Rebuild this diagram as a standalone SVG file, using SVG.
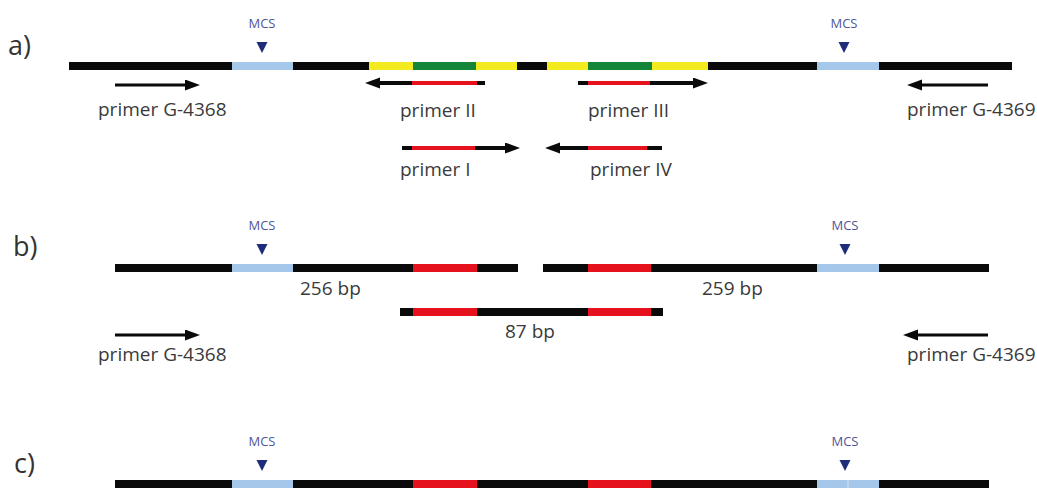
<svg xmlns="http://www.w3.org/2000/svg" width="1037" height="489" viewBox="0 0 1037 489">
  <defs>
    <style>
      .dna { fill: #0a0a0a; }
      .mcs { fill: #a5c7ea; }
      .yel { fill: #f3ea1f; }
      .grn { fill: #13863a; }
      .red { fill: #e5121d; }
      .tri { fill: #1f2c78; }
      .mcst { font-family: "Open Sans", "Liberation Sans", sans-serif; font-size: 13px; fill: #4f5698; text-anchor: middle; }
      .lbl { font-family: "Open Sans", "Liberation Sans", sans-serif; font-size: 19px; fill: #3a3a3a; }
      .sec { font-family: "Open Sans", "Liberation Sans", sans-serif; font-size: 27px; fill: #333333; }
      .arr { stroke: #0a0a0a; stroke-width: 3; fill: none; marker-end: url(#head); }
      .parr { stroke: #0a0a0a; stroke-width: 4; fill: none; marker-end: url(#head); }
      .pred { stroke: #e5121d; stroke-width: 4; }
    </style>
    <marker id="head" markerUnits="userSpaceOnUse" markerWidth="16" markerHeight="12" refX="5" refY="5.5" orient="auto">
      <path d="M0,0 L15,5.5 L0,11 z" fill="#0a0a0a"/>
    </marker>
  </defs>
  <rect width="1037" height="489" fill="#ffffff"/>

  <!-- panel labels -->
  <text class="sec" x="8" y="55">a)</text>
  <text class="sec" x="13" y="256">b)</text>
  <text class="sec" x="14" y="473">c)</text>

  <!-- a) vector with insert -->
  <g id="construct-a">
    <rect class="dna" x="69" y="62" width="943" height="8"/>
    <rect class="mcs" x="232" y="62" width="61" height="8"/>
    <rect class="yel" x="369" y="62" width="44" height="8"/>
    <rect class="grn" x="413" y="62" width="63" height="8"/>
    <rect class="yel" x="476" y="62" width="41" height="8"/>
    <rect class="yel" x="547" y="62" width="41" height="8"/>
    <rect class="grn" x="588" y="62" width="64" height="8"/>
    <rect class="yel" x="652" y="62" width="56" height="8"/>
    <rect class="mcs" x="817" y="62" width="62" height="8"/>
    <text class="mcst" x="262" y="28">MCS</text>
    <polygon class="tri" points="256.5,42 267.5,42 262,53"/>
    <text class="mcst" x="844" y="28">MCS</text>
    <polygon class="tri" points="838.5,42 849.5,42 844,53"/>
  </g>

  <!-- b) PCR fragments -->
  <g id="fragment-256">
    <rect class="dna" x="115" y="264" width="403" height="8"/>
    <rect class="mcs" x="232" y="264" width="61" height="8"/>
    <rect class="red" x="413" y="264" width="64" height="8"/>
    <text class="mcst" x="262" y="230">MCS</text>
    <polygon class="tri" points="256.5,244 267.5,244 262,255"/>
    <text class="lbl" x="300" y="295">256 bp</text>
  </g>
  <g id="fragment-259">
    <rect class="dna" x="543" y="264" width="446" height="8"/>
    <rect class="red" x="588" y="264" width="63" height="8"/>
    <rect class="mcs" x="817" y="264" width="62" height="8"/>
    <text class="mcst" x="845" y="230">MCS</text>
    <polygon class="tri" points="839.5,244 850.5,244 845,255"/>
    <text class="lbl" x="702" y="295">259 bp</text>
  </g>
  <g id="fragment-87">
    <rect class="dna" x="400" y="308" width="263" height="8"/>
    <rect class="red" x="413" y="308" width="64" height="8"/>
    <rect class="red" x="588" y="308" width="63" height="8"/>
    <text class="lbl" x="505" y="338">87 bp</text>
  </g>

  <!-- c) final construct -->
  <g id="construct-c">
    <rect class="dna" x="115" y="480" width="874" height="8"/>
    <rect class="mcs" x="232" y="480" width="61" height="8"/>
    <rect class="red" x="413" y="480" width="64" height="8"/>
    <rect class="red" x="588" y="480" width="63" height="8"/>
    <rect class="mcs" x="817" y="480" width="62" height="8"/>
    <line x1="848" y1="480" x2="848" y2="488" stroke="#d4e4f5" stroke-width="1"/>
    <text class="mcst" x="262" y="446">MCS</text>
    <polygon class="tri" points="256.5,460 267.5,460 262,471"/>
    <text class="mcst" x="845" y="446">MCS</text>
    <polygon class="tri" points="839.5,460 850.5,460 845,471"/>
  </g>

  <!-- primers -->
  <g id="primers">
    <g id="primer-g4368-a">
      <line class="arr" x1="115" y1="85" x2="190" y2="85"/>
      <text class="lbl" x="98" y="116">primer G-4368</text>
    </g>
    <g id="primer-g4369-a">
      <line class="arr" x1="988" y1="85" x2="917" y2="85"/>
      <text class="lbl" x="907" y="116">primer G-4369</text>
    </g>
    <g id="primer-2">
      <line class="parr" x1="485" y1="83" x2="375" y2="83"/>
      <line class="pred" x1="412" y1="83" x2="477" y2="83"/>
      <text class="lbl" x="400" y="117">primer II</text>
    </g>
    <g id="primer-3">
      <line class="parr" x1="578" y1="83" x2="698" y2="83"/>
      <line class="pred" x1="588" y1="83" x2="650" y2="83"/>
      <text class="lbl" x="588" y="117">primer III</text>
    </g>
    <g id="primer-1">
      <line class="parr" x1="402" y1="148" x2="510" y2="148"/>
      <line class="pred" x1="412" y1="148" x2="475" y2="148"/>
      <text class="lbl" x="400" y="176">primer I</text>
    </g>
    <g id="primer-4">
      <line class="parr" x1="662" y1="148" x2="555" y2="148"/>
      <line class="pred" x1="588" y1="148" x2="647" y2="148"/>
      <text class="lbl" x="590" y="176">primer IV</text>
    </g>
    <g id="primer-g4368-b">
      <line class="arr" x1="115" y1="335" x2="190" y2="335"/>
      <text class="lbl" x="98" y="361">primer G-4368</text>
    </g>
    <g id="primer-g4369-b">
      <line class="arr" x1="988" y1="335" x2="913" y2="335"/>
      <text class="lbl" x="907" y="361">primer G-4369</text>
    </g>
  </g>
</svg>
